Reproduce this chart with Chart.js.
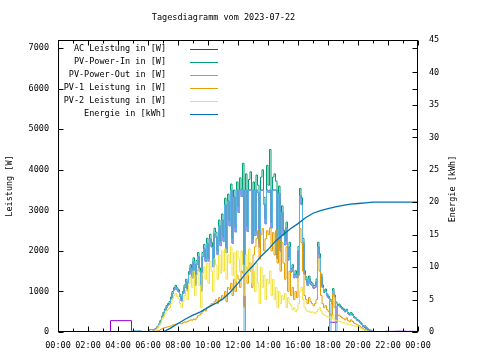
<!DOCTYPE html>
<html>
<head>
<meta charset="utf-8">
<script src="https://cdn.jsdelivr.net/npm/chart.js@4/dist/chart.umd.min.js"></script>
<style>
html,body{margin:0;padding:0;background:#fff;}
canvas{display:block;}
</style>
</head>
<body>
<canvas id="c" width="480" height="360"></canvas>
<script>
// ---------- text ----------
const chartTitle = 'Tagesdiagramm vom 2023-07-22';
const leftTitle = 'Leistung [W]';
const rightTitle = 'Energie [kWh]';
const seriesNames = ['AC Leistung in [W]', 'PV-Power-In in [W]', 'PV-Power-Out in [W]', 'PV-1 Leistung in [W]', 'PV-2 Leistung in [W]', 'Energie in [kWh]'];
const seriesColors = ['#9400d3', '#009e73', '#56b4e9', '#e69f00', '#f0e442', '#0072b2'];

// ---------- ticks ----------
const hourTicks = [0, 2, 4, 6, 8, 10, 12, 14, 16, 18, 20, 22, 24];
const timeLabels = ['00:00', '02:00', '04:00', '06:00', '08:00', '10:00', '12:00', '14:00', '16:00', '18:00', '20:00', '22:00', '00:00'];
const powerTicks = [0, 1000, 2000, 3000, 4000, 5000, 6000, 7000];
const energyTicks = [0, 5, 10, 15, 20, 25, 30, 35, 40, 45];

// ---------- time grid (hours of day) ----------
const earlyHours = [0, 3.5, 4.9, 5.6];
const dayHours = Array.from({length: 151}, (_, i) => Math.round((6 + i * 0.1) * 10) / 10); // 06:00 .. 21:00 every 6 min
const lateHours = [21.8, 22.5, 23.2, 24];

// ---------- series values ----------
const acEarly = [0, 280, 0, 0];
const acDay = [
  0,60,60,60,70,90,130,190,260,360,
  450,530,610,660,700,810,950,1040,1100,1040,
  990,880,770,950,1100,1240,1020,1420,1580,1330,
  1740,1150,1670,1860,1500,1010,1860,2050,1740,2190,
  1740,2290,2100,1610,2430,2340,1910,2620,2130,2760,
  2240,3140,1960,3230,2620,3500,2190,3330,2470,3500,
  2950,3500,3340,3500,650,3500,2480,3500,3500,2190,
  3500,2380,3500,3440,2100,3500,3500,3150,2670,3500,
  3440,3500,2570,3500,3500,3500,1810,3420,2000,2950,
  2380,2150,2570,1770,2100,1480,1580,1340,1430,1340,
  2000,3360,3140,2190,1430,1290,1150,1310,1180,1150,
  1080,1100,1240,2100,1830,1360,1100,980,1010,890,
  840,240,240,240,240,240,650,660,610,570,
  540,500,530,460,420,460,410,360,330,290,
  270,230,190,140,160,120,80,60,40,20,
  0];
const acLate = [15, 20, 15, 15];

const pvInEarly = [0, 0, 0, 0];
const pvInDay = [
  0,0,10,25,45,85,140,200,290,390,
  490,570,650,700,750,860,1000,1090,1150,1090,
  1040,930,810,1000,1160,1300,1070,1490,1660,1400,
  1830,1210,1760,1960,1580,1060,1960,2160,1830,2310,
  1830,2410,2210,1690,2560,2460,2010,2760,2240,2910,
  2360,3300,2060,3400,2760,3650,2310,3500,2600,3700,
  3110,3800,3520,4160,1510,3900,2610,3760,3950,2310,
  3700,2510,3870,3620,2210,3820,4000,3320,2810,4110,
  3620,4500,2710,3820,3900,3720,1910,3600,2110,3110,
  2510,2260,2710,1860,2210,1560,1660,1410,1510,1410,
  2110,3540,3310,2310,1510,1360,1210,1380,1240,1210,
  1140,1160,1310,2210,1930,1430,1160,1030,1060,940,
  880,810,740,1070,910,740,680,690,640,600,
  570,530,560,480,440,480,430,380,350,310,
  290,250,200,150,110,80,55,30,12,0,
  0];
const pvInLate = [0, 0, 0, 0];

const pvOutEarly = [0, 0, 30, 0];
const pvOutDay = [
  0,60,60,60,60,80,130,190,260,360,
  450,530,610,660,700,810,950,1040,1100,1040,
  990,880,770,950,1100,1240,1020,1420,1580,1330,
  1740,1150,1670,1860,1500,1010,1860,2050,1740,2190,
  1740,2290,2100,1610,2430,2340,1910,2620,2130,2760,
  2240,3140,1960,3230,2620,3500,2190,3330,2470,3500,
  2950,3500,3340,3500,0,3500,2480,3500,3500,2190,
  3500,2380,3500,3440,2100,3500,3500,3150,2670,3500,
  3440,3500,2570,3500,3500,3500,1810,3420,2000,2950,
  2380,2150,2570,1770,2100,1480,1580,1340,1430,1340,
  2000,3360,3140,2190,1430,1290,1150,1310,1180,1150,
  1080,1100,1240,2100,1830,1360,1100,980,1010,890,
  840,0,700,1020,860,0,650,660,610,570,
  540,500,530,460,420,460,410,360,330,290,
  270,230,190,140,160,120,80,60,40,20,
  0];
const pvOutLate = [15, 10, 15, 15];

const pv1Early = [0, 0, 0, 0];
const pv1Day = [
  0,0,0,5,10,20,30,40,60,80,
  100,110,120,130,140,150,170,180,190,200,
  210,220,200,230,250,240,260,280,300,290,
  320,300,350,400,420,450,500,550,520,600,
  620,650,700,680,750,800,700,850,780,900,
  850,1000,750,1100,1050,1200,900,1300,1000,1400,
  1300,1100,1500,1450,600,1600,1200,1700,1500,1100,
  1900,2100,2300,2500,1800,2400,2550,2000,2300,2500,
  2400,2570,2000,2450,1900,2500,1700,2300,1500,2200,
  1700,1300,2100,1000,1500,900,1100,800,1000,850,
  1400,2550,2200,1500,900,800,700,850,750,700,
  650,700,800,1840,1500,900,700,600,650,550,
  500,450,400,950,600,450,400,420,380,350,
  330,300,350,280,250,300,260,220,200,180,
  160,140,110,80,60,45,30,15,5,0,
  0];
const pv1Late = [0, 0, 0, 0];

const pv2Early = [0, 0, 0, 0];
const pv2Day = [
  0,0,5,15,30,60,100,150,220,300,
  380,450,520,560,600,700,820,900,950,880,
  820,700,600,760,900,1050,800,1200,1350,1100,
  1500,900,1400,1550,1150,600,1450,1600,1300,1700,
  1200,1750,1500,1000,1800,1650,1300,1900,1450,2000,
  1500,2050,1300,1900,1700,2100,1400,1950,1250,2000,
  1800,1500,2000,1650,900,1900,1400,2050,1700,1200,
  1500,1000,1700,1200,700,1600,1100,1400,800,1300,
  1200,1500,900,1300,800,1100,600,1000,700,900,
  800,950,600,850,700,650,550,600,500,550,
  700,1000,1100,800,600,550,500,520,480,500,
  480,450,500,550,600,520,450,420,400,380,
  370,350,330,420,300,280,270,260,250,240,
  230,220,200,190,180,170,160,150,140,130,
  120,100,80,60,40,30,20,10,5,0,
  0];
const pv2Late = [0, 0, 0, 0];

const energyHours = [1.7, 7.0, 7.5, 8.0, 8.5, 9.0, 9.5, 10.0, 10.5, 11.0, 11.5, 12.0, 12.5, 13.0, 13.5, 14.0, 14.5, 15.0, 15.5, 16.0, 16.5, 17.0, 17.5, 18.0, 18.5, 19.0, 19.5, 20.0, 20.5, 21.0, 24.0];
const energyKWh = [0, 0, 0.6, 1.3, 2.0, 2.6, 3.1, 3.8, 4.4, 5.1, 6.2, 7.5, 9.0, 10.2, 11.6, 12.7, 14.0, 15.0, 15.9, 16.7, 17.6, 18.3, 18.7, 19.0, 19.3, 19.5, 19.7, 19.8, 19.9, 20.0, 20.0];

// ---------- build datasets ----------
const allHours = earlyHours.concat(dayHours, lateHours);
function pts(hours, vals) { return vals.map((v, i) => ({x: hours[i], y: v})); }
const powerSets = [
  acEarly.concat(acDay, acLate),
  pvInEarly.concat(pvInDay, pvInLate),
  pvOutEarly.concat(pvOutDay, pvOutLate),
  pv1Early.concat(pv1Day, pv1Late),
  pv2Early.concat(pv2Day, pv2Late)
];
const datasets = powerSets.map((vals, k) => ({
  label: seriesNames[k],
  data: pts(allHours, vals),
  borderColor: seriesColors[k],
  backgroundColor: seriesColors[k],
  borderWidth: 1,
  stepped: true,
  pointRadius: 0,
  yAxisID: 'y',
  order: 5 - k
}));
datasets.push({
  label: seriesNames[5],
  data: pts(energyHours, energyKWh),
  borderColor: seriesColors[5],
  backgroundColor: seriesColors[5],
  borderWidth: 1.3,
  pointRadius: 0,
  tension: 0,
  yAxisID: 'y2',
  order: 0
});

const FONT = '"DejaVu Sans Mono", "Liberation Mono", monospace';
const FSIZE = 8.5;

const gnuplotDecor = {
  id: 'gnuplotDecor',
  afterDraw(chart) {
    const {ctx, chartArea: a, scales} = chart;
    const xs = scales.x, ys = scales.y, y2s = scales.y2;
    ctx.save();
    ctx.strokeStyle = '#000';
    ctx.lineWidth = 1;
    const L = Math.round(a.left) + 0.5, R = Math.round(a.right) - 0.5;
    const T = Math.round(a.top) + 0.5, B = Math.round(a.bottom) - 0.5;
    function seg(x1, y1, x2, y2) { ctx.beginPath(); ctx.moveTo(x1, y1); ctx.lineTo(x2, y2); ctx.stroke(); }
    // x ticks (major every 2 h, minor every hour), inward, bottom and top
    for (let h = 0; h <= 24; h++) {
      const px = Math.round(xs.getPixelForValue(h)) + 0.5;
      const len = (h % 2 === 0) ? 5 : 3;
      seg(px, B, px, B - len);
      seg(px, T, px, T + len);
    }
    // left y ticks, mirrored on the right
    powerTicks.forEach(v => {
      const py = Math.round(ys.getPixelForValue(v)) + 0.5;
      seg(L, py, L + 5, py);
      seg(R, py, R - 5, py);
    });
    // y2 ticks on the right
    energyTicks.forEach(v => {
      const py = Math.round(y2s.getPixelForValue(v)) + 0.5;
      seg(R, py, R - 5, py);
    });
    // frame
    ctx.strokeRect(L, T, R - L, B - T);

    // texts
    ctx.fillStyle = '#000';
    ctx.font = FSIZE + 'px ' + FONT;
    ctx.textBaseline = 'middle';
    ctx.textAlign = 'center';
    ctx.fillText(chartTitle, 223.5, 18);

    ctx.save();
    ctx.translate(10, (a.top + a.bottom) / 2);
    ctx.rotate(-Math.PI / 2);
    ctx.fillText(leftTitle, 0, 0);
    ctx.restore();
    ctx.save();
    ctx.translate(453, (a.top + a.bottom) / 2 + 3);
    ctx.rotate(-Math.PI / 2);
    ctx.fillText(rightTitle, 0, 0);
    ctx.restore();

    // legend
    ctx.textAlign = 'right';
    for (let k = 0; k < seriesNames.length; k++) {
      const yy = 48.5 + 13 * k;
      ctx.fillStyle = '#000';
      ctx.fillText(seriesNames[k], 166, yy);
      ctx.strokeStyle = seriesColors[k];
      ctx.lineWidth = 1;
      seg(190, Math.round(yy) + 0.5, 218, Math.round(yy) + 0.5);
    }
    ctx.restore();
  }
};

const tickFont = {family: FONT, size: FSIZE};

new Chart(document.getElementById('c'), {
  type: 'line',
  data: {datasets},
  options: {
    responsive: false,
    devicePixelRatio: 1,
    animation: false,
    events: [],
    layout: {padding: {left: 0, right: 0, top: 40, bottom: 0}},
    plugins: {legend: {display: false}, title: {display: false}, tooltip: {enabled: false}},
    scales: {
      x: {
        type: 'linear', min: 0, max: 24, offset: false,
        grid: {display: false}, border: {display: false},
        afterBuildTicks: s => { s.ticks = hourTicks.map(v => ({value: v})); },
        afterFit: s => { s.height = 28; },
        ticks: {font: tickFont, color: '#000', padding: 1, maxRotation: 0, autoSkip: false,
          callback: (v, i) => timeLabels[i]}
      },
      y: {
        type: 'linear', position: 'left', min: 0, max: 7200,
        grid: {display: false}, border: {display: false},
        afterBuildTicks: s => { s.ticks = powerTicks.map(v => ({value: v})); },
        afterFit: s => { s.width = 58; },
        ticks: {font: tickFont, color: '#000', padding: 1, callback: v => String(v)}
      },
      y2: {
        type: 'linear', position: 'right', min: 0, max: 45,
        grid: {display: false}, border: {display: false},
        afterBuildTicks: s => { s.ticks = energyTicks.map(v => ({value: v})); },
        afterFit: s => { s.width = 62; },
        ticks: {font: tickFont, color: '#000', padding: 3, callback: v => String(v)}
      }
    }
  },
  plugins: [gnuplotDecor]
});
</script>
</body>
</html>
